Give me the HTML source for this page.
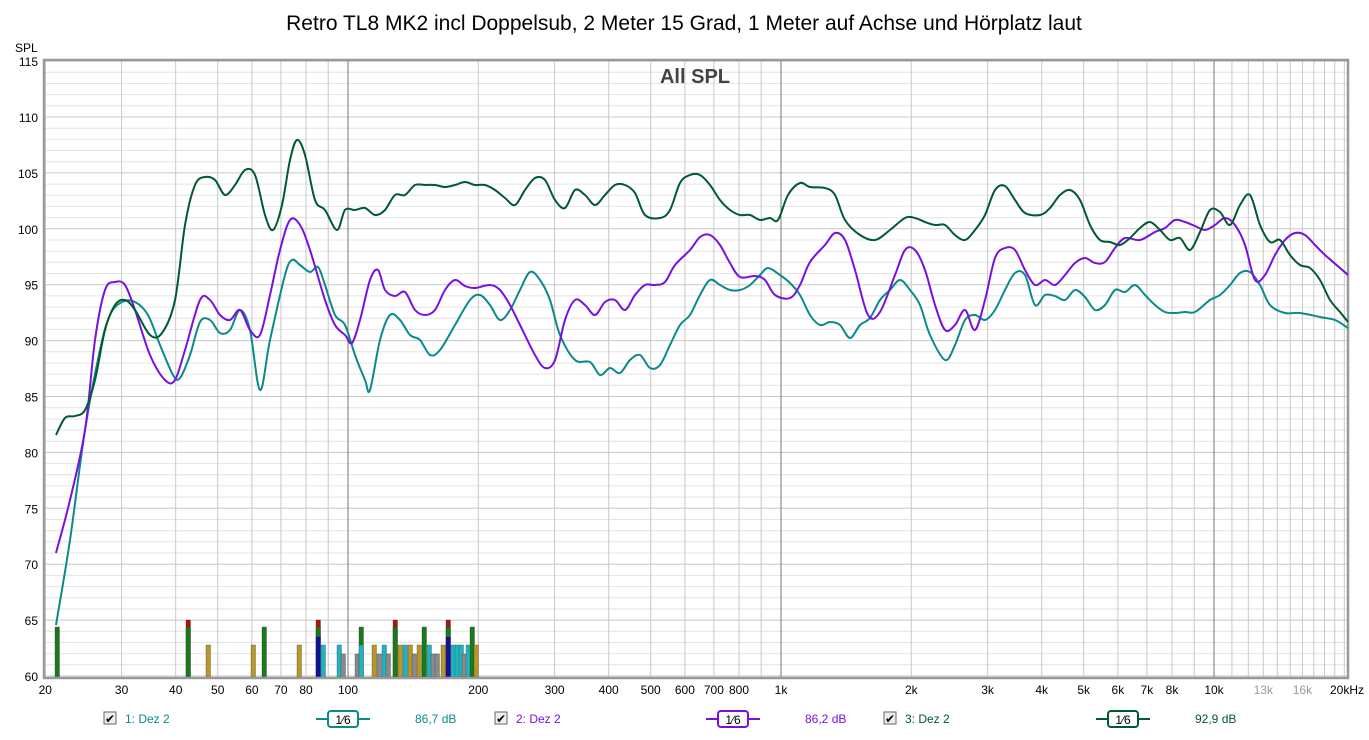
<!DOCTYPE html>
<html><head><meta charset="utf-8"><style>
body{margin:0;background:#fff;width:1369px;height:735px;overflow:hidden;font-family:"Liberation Sans",sans-serif}
</style></head><body>
<svg id="s" width="1369" height="735" xmlns="http://www.w3.org/2000/svg" font-family="Liberation Sans, sans-serif"></svg>
<script>
const s=document.getElementById('s');
const L=45,R=1347,T=61,B=677;
const X=f=>348+433*Math.log10(f/100);
const Y=d=>676-(d-60)*11.18;
let h='<rect x="0" y="0" width="1369" height="735" fill="#fff"/>';
h+='<text x="684" y="30" font-size="21" text-anchor="middle" fill="#000">Retro TL8 MK2 incl Doppelsub, 2 Meter 15 Grad, 1 Meter auf Achse und Hörplatz laut</text>';
h+='<text x="15" y="52" font-size="12">SPL</text>';
for(let d=60;d<=115;d++){const y=Y(d).toFixed(1);h+=`<line x1="${L}" x2="${R}" y1="${y}" y2="${y}" stroke="${d%5==0?'#c8c8c8':'#e4e4e4'}" stroke-width="1"/>`;
 if(d%5==0)h+=`<text x="38" y="${+y+5}" font-size="12" text-anchor="end">${d}</text>`;}
const fs=[];for(const dec of [10,100,1000,10000])for(let m=1;m<10;m++){const f=dec*m;if(f>=20&&f<=20000)fs.push(f);}
for(const f of [11000,12000,13000,14000,15000,16000,17000,18000,19000])fs.push(f);
for(const f of fs){const x=X(f).toFixed(1);const dk=(f==100||f==1000||f==10000);h+=`<line x1="${x}" x2="${x}" y1="${T}" y2="${B}" stroke="${dk?'#777':'#c8c8c8'}" stroke-width="1"/>`;}
const lab=[[20,'20'],[30,'30'],[40,'40'],[50,'50'],[60,'60'],[70,'70'],[80,'80'],[100,'100'],[200,'200'],[300,'300'],[400,'400'],[500,'500'],[600,'600'],[700,'700'],[800,'800'],[1000,'1k'],[2000,'2k'],[3000,'3k'],[4000,'4k'],[5000,'5k'],[6000,'6k'],[7000,'7k'],[8000,'8k'],[10000,'10k'],[13000,'13k'],[16000,'16k']];
for(const [f,t] of lab)h+=`<text x="${X(f).toFixed(1)}" y="694" font-size="12" text-anchor="middle" fill="${t=='13k'||t=='16k'?'#999':'#000'}">${t}</text>`;
h+='<text x="1347" y="694" font-size="12" text-anchor="middle">20kHz</text>';
h+='<text x="695" y="83" font-size="20" font-weight="bold" text-anchor="middle" fill="#444">All SPL</text>';
const G='#1a7a1a',Au='#b8962a',Te='#1fb5c0',Gr='#8a8a8a',Bl='#10109a',Rd='#b01010';
const bars=[[57,G,627],[188,Rd,620],[188,G,627],[208,Au,645],[253,Au,645],[264,G,627],[299,Au,645],[318,Rd,620],[318,G,627],[318,Bl,637],[323,Te,645],[339,Te,645],[343,Gr,654],[357,Gr,654],[361,G,627],[361,Te,645],[374,Au,645],[379,Gr,654],[384,Te,645],[388,Gr,654],[395,Rd,620],[395,G,627],[400,Au,645],[405,Te,645],[410,Au,645],[414,Gr,654],[419,Au,645],[424,G,627],[429,Te,645],[433,Gr,654],[437,Gr,654],[443,Au,645],[448,Rd,620],[448,G,627],[448,Bl,637],[453,Te,645],[457,Te,645],[461,Te,645],[464,Gr,654],[468,Te,645],[472,G,627],[476,Au,645]];
for(const [x,c,t] of bars)h+=`<rect x="${x-2}" y="${t}" width="4.5" height="${677-t}" fill="${c}" stroke="#333" stroke-width="0.3"/>`;
h+=`<rect x="${L-1}" y="${T-1}" width="${R-L+2}" height="${B-T+2}" fill="none" stroke="#999" stroke-width="2.5"/>`;
const teal=[[56,625],[70,540],[85,430],[100,350],[110,315],[122,302],[135,302],[148,315],[160,345],[173,375],[180,378],[190,355],[200,322],[210,320],[220,333],[230,330],[240,310],[250,330],[260,390],[270,340],[285,275],[292,260],[300,265],[310,272],[318,267],[325,285],[335,315],[345,325],[355,355],[365,380],[370,390],[380,340],[390,315],[400,320],[410,335],[420,340],[430,355],[440,350],[455,325],[470,300],[480,295],[490,305],[500,320],[510,310],[520,290],[530,272],[540,280],[550,300],[560,335],[575,360],[590,362],[600,375],[610,368],[620,373],[630,360],[640,355],[650,368],[660,365],[670,345],[680,325],[690,315],[700,295],[710,280],[720,285],[730,290],[740,290],[750,285],[760,275],[768,268],[780,275],[790,283],[800,295],[810,315],[820,325],[830,322],[840,325],[850,338],[860,325],[870,318],[880,300],[890,290],[900,280],[910,290],[920,305],[930,335],[945,360],[955,345],[965,320],[975,315],[985,320],[995,310],[1005,290],[1015,273],[1025,275],[1035,305],[1045,295],[1055,296],[1065,300],[1075,290],[1085,297],[1095,310],[1105,305],[1115,290],[1125,292],[1135,285],[1145,295],[1155,305],[1165,312],[1175,313],[1185,312],[1195,312],[1210,300],[1220,295],[1230,285],[1240,273],[1250,272],[1260,285],[1270,305],[1285,313],[1300,313],[1320,317],[1335,320],[1348,328]];
const purp=[[56,553],[70,500],[85,430],[95,340],[105,290],[115,282],[125,285],[135,310],[150,355],[165,380],[175,380],[185,350],[200,300],[210,300],[220,315],[230,320],[240,310],[250,330],[260,335],[270,295],[280,250],[290,220],[300,225],[310,250],[325,300],[335,325],[345,335],[352,343],[360,320],[370,280],[378,270],[385,290],[395,296],[405,292],[415,310],[425,315],[435,310],[445,290],[455,280],[465,286],[475,288],[490,285],[500,290],[510,305],[520,325],[535,355],[545,368],[555,360],[565,320],[575,300],[585,305],[595,315],[605,302],[615,300],[625,310],[635,295],[645,285],[655,285],[665,282],[675,265],[690,250],[700,237],[710,235],[720,245],[730,263],[740,277],[755,276],[765,280],[775,295],[790,298],[800,285],[810,262],[825,245],[835,233],[845,240],[855,270],[868,315],[880,312],[895,275],[905,250],[915,250],[925,270],[935,305],[945,330],[955,325],[965,310],[975,330],[985,300],[995,258],[1005,248],[1015,250],[1025,270],[1035,285],[1045,280],[1055,285],[1065,275],[1075,263],[1085,258],[1095,263],[1105,262],[1115,248],[1125,238],[1140,240],[1155,232],[1165,228],[1175,220],[1185,222],[1195,226],[1205,230],[1215,225],[1225,218],[1235,225],[1245,245],[1255,280],[1265,275],[1275,255],[1285,240],[1295,233],[1305,235],[1315,245],[1325,255],[1340,268],[1348,275]];
const dg=[[56,435],[65,418],[75,416],[85,410],[95,380],[105,330],[115,305],[125,300],[135,310],[150,335],[162,333],[175,300],[185,225],[195,185],[205,177],[215,180],[225,195],[235,185],[245,170],[255,175],[265,215],[273,230],[282,205],[290,160],[297,140],[305,155],[315,200],[325,210],[337,230],[345,210],[355,210],[365,208],[375,215],[385,210],[395,195],[405,195],[415,185],[425,185],[435,185],[445,187],[455,185],[465,182],[475,185],[485,185],[495,190],[505,198],[515,205],[525,190],[535,178],[545,180],[555,200],[565,208],[575,190],[585,195],[595,205],[605,195],[615,185],[625,185],[635,193],[645,215],[660,218],[670,210],[680,183],[690,175],[700,175],[710,185],[720,200],[730,210],[740,215],[750,215],[760,220],[770,218],[778,220],[788,195],[800,183],[810,187],[825,188],[835,195],[845,220],[860,235],[875,240],[890,230],[905,218],[915,218],[925,222],[935,225],[945,225],[955,235],[965,240],[975,230],[985,215],[995,190],[1005,186],[1015,200],[1025,213],[1040,215],[1050,208],[1060,195],[1070,190],[1080,200],[1090,225],[1100,240],[1110,242],[1120,245],[1130,238],[1140,228],[1150,222],[1160,230],[1170,240],[1180,238],[1190,250],[1200,232],[1210,210],[1220,212],[1230,225],[1240,205],[1250,195],[1260,225],[1270,242],[1280,240],[1290,255],[1300,265],[1310,268],[1320,280],[1330,300],[1340,312],[1348,322]];
function pl(p,c){let d=`M${p[0][0]},${p[0][1]}`;for(let i=0;i<p.length-1;i++){const p0=p[i-1]||p[i],p1=p[i],p2=p[i+1],p3=p[i+2]||p2;
 const c1=[p1[0]+(p2[0]-p0[0])/6,p1[1]+(p2[1]-p0[1])/6],c2=[p2[0]-(p3[0]-p1[0])/6,p2[1]-(p3[1]-p1[1])/6];
 d+=` C${c1[0].toFixed(1)},${c1[1].toFixed(1)} ${c2[0].toFixed(1)},${c2[1].toFixed(1)} ${p2[0]},${p2[1]}`;}
 return `<path fill="none" stroke="${c}" stroke-width="2" stroke-linejoin="round" d="${d}"/>`;}
h+=pl(teal,'#0a8a8a')+pl(purp,'#7a10e0')+pl(dg,'#005a30');
const leg=[[104,'1: Dez 2','#0a8a8a',343,'86,7 dB',415],[495,'2: Dez 2','#7a10e0',733,'86,2 dB',805],[884,'3: Dez 2','#005a30',1123,'92,9 dB',1195]];
for(const [cx,t,c,lx,v,vx] of leg){
 h+=`<rect x="${cx}" y="712" width="12" height="12" fill="#eee" stroke="#666"/><text x="${cx+1}" y="723" font-size="12">✔</text>`;
 h+=`<text x="${cx+21}" y="723" font-size="12" fill="${c}">${t}</text>`;
 h+=`<line x1="${lx-27}" x2="${lx+27}" y1="719" y2="719" stroke="${c}" stroke-width="2"/><rect x="${lx-15}" y="711" width="30" height="16" rx="3" fill="#fff" stroke="${c}" stroke-width="2"/><text x="${lx}" y="724" font-size="12" text-anchor="middle">1⁄6</text>`;
 h+=`<text x="${vx}" y="723" font-size="12" fill="${c}">${v}</text>`;}
s.innerHTML=h;
</script>
</body></html>
